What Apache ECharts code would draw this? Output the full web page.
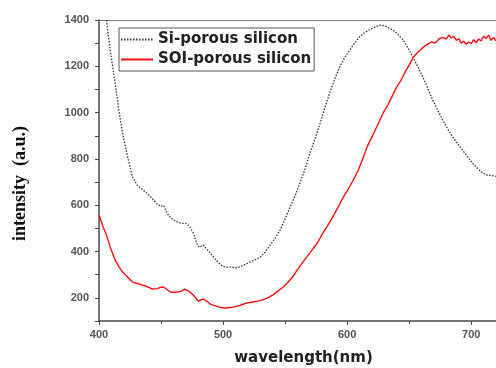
<!DOCTYPE html>
<html>
<head>
<meta charset="utf-8">
<script src="https://cdn.jsdelivr.net/npm/echarts@6/dist/echarts.min.js"></script>
<style>
  html, body { margin: 0; padding: 0; background: #fff; }
  #chart { width: 496px; height: 368px; }
</style>
</head>
<body>
<div id="chart"></div>
<script>
// Si-porous silicon (black dotted)
const siWl = [406, 409, 413, 416, 419, 423, 427, 431, 435, 439, 443, 447, 450, 452, 455, 458, 462, 466, 470, 473,
  476, 479, 481, 484, 487, 490, 494, 498, 502, 506, 510, 514, 518, 522, 526, 530, 534, 538, 542, 546,
  550, 554, 558, 562, 566, 570, 574, 578, 582, 586, 590, 594, 598, 602, 606, 610, 614, 618, 622, 626,
  630, 634, 637, 641, 645, 649, 653, 657, 661, 665, 669, 673, 677, 681, 685, 689, 693, 697, 701, 705,
  709, 713, 717, 720];
const siVal = [1400, 1270, 1128, 1010, 912, 810, 722, 685, 668, 650, 628, 605, 595, 600, 565, 545, 530, 522, 522, 508,
  480, 432, 418, 428, 410, 392, 365, 342, 332, 333, 330, 334, 345, 355, 365, 376, 398, 428, 458, 493,
  540, 592, 640, 696, 755, 825, 885, 950, 1020, 1085, 1145, 1197, 1238, 1270, 1300, 1327, 1345, 1358, 1368, 1378,
  1375, 1365, 1357, 1338, 1314, 1280, 1240, 1198, 1154, 1105, 1054, 1010, 968, 930, 895, 866, 838, 810, 782, 760,
  740, 730, 728, 725];

// SOI-porous silicon (red)
const soiWl = [400, 403, 406, 409, 413, 416, 419, 423, 427, 431, 435, 439, 443, 447, 450, 452, 455, 458, 462, 466,
  469, 472, 476, 480, 484, 487, 490, 494, 498, 502, 506, 510, 514, 519, 524, 528, 532, 536, 540, 544,
  548, 552, 556, 560, 564, 568, 572, 576, 580, 584, 588, 592, 597, 601, 605, 609, 612, 616, 620, 624,
  629, 633, 636, 640, 644, 647, 650, 653, 656, 659, 662, 665, 668, 671, 674, 677, 680, 682, 684, 686,
  688, 690, 692, 694, 696, 698, 700, 702, 704, 706, 708, 710, 712, 714, 716, 718, 720];
const soiVal = [558, 510, 471, 420, 363, 335, 312, 290, 268, 262, 255, 248, 238, 240, 246, 247, 235, 224, 224, 228,
  238, 230, 212, 186, 195, 185, 172, 165, 158, 156, 158, 162, 168, 178, 182, 186, 191, 200, 212, 228,
  245, 265, 290, 322, 352, 380, 408, 437, 475, 510, 545, 585, 636, 670, 709, 752, 792, 851, 895, 940,
  998, 1035, 1068, 1111, 1145, 1178, 1205, 1236, 1255, 1270, 1285, 1296, 1305, 1300, 1318, 1325, 1318, 1335, 1322, 1330,
  1312, 1320, 1300, 1308, 1295, 1305, 1298, 1315, 1302, 1318, 1310, 1330, 1320, 1335, 1312, 1325, 1310];

const xTicks = [400, 500, 600, 700];
const yTicks = [200, 400, 600, 800, 1000, 1200, 1400];

const zip = (a, b) => a.map((x, i) => [x, b[i]]);

const chart = echarts.init(document.getElementById("chart"));
const axisColor = "#4a4a4a";
const labelStyle = { color: "#555", fontSize: 11, fontWeight: "bold", fontFamily: "Liberation Sans, Arial, sans-serif" };

chart.setOption({
  animation: false,
  backgroundColor: "#fff",
  grid: { left: 99, right: 0, top: 20, bottom: 47, outerBoundsMode: "none", containLabel: false },
  legend: {
    orient: "vertical",
    left: 119, top: 28,
    padding: [4, 3, 4, 1],
    itemGap: 5,
    itemWidth: 32, itemHeight: 14,
    borderColor: "#555", borderWidth: 1,
    itemStyle: { opacity: 0 },
    textStyle: { color: "#222", fontSize: 15, fontWeight: "bold", fontFamily: "DejaVu Sans, sans-serif" },
    data: ["Si-porous silicon", "SOI-porous silicon"],
  },
  xAxis: [
    {
      type: "value", min: 400, max: 720, interval: 100,
      name: "wavelength(nm)", nameLocation: "middle", nameGap: 30,
      nameTextStyle: { color: "#222", fontSize: 15, fontWeight: "bold", fontFamily: "DejaVu Sans, sans-serif", padding: [0, 0, 0, 12] },
      axisLine: { show: true, lineStyle: { color: axisColor, width: 1.5 } },
      axisTick: { show: true, length: 4, lineStyle: { color: axisColor } },
      minorTick: { show: true, splitNumber: 2, length: 3, lineStyle: { color: axisColor } },
      axisLabel: { ...labelStyle, margin: 8, formatter: v => xTicks.includes(v) ? String(v) : "" },
      splitLine: { show: false },
    },
    {
      type: "value", position: "top", min: 400, max: 720,
      axisLine: { show: true, lineStyle: { color: "#777", width: 1 } },
      axisTick: { show: false }, axisLabel: { show: false }, splitLine: { show: false },
    },
  ],
  yAxis: {
    type: "value", min: 100, max: 1400, interval: 100,
    name: "intensity  (a.u.)", nameLocation: "middle", nameGap: 70,
    nameTextStyle: { color: "#111", fontSize: 18, fontWeight: "bold", fontFamily: "Liberation Serif, Times New Roman, serif", padding: [0, 26, 0, 0] },
    axisLine: { show: true, lineStyle: { color: axisColor, width: 1.5 } },
    axisTick: { show: true, length: 4, lineStyle: { color: axisColor } },
    axisLabel: { ...labelStyle, margin: 10, formatter: v => yTicks.includes(v) ? String(v) : "" },
    splitLine: { show: false },
  },
  series: [
    {
      name: "Si-porous silicon", type: "line", showSymbol: false, symbol: "none",
      data: zip(siWl, siVal),
      lineStyle: { color: "#333", width: 1.3, type: [1.5, 1.5] },
      itemStyle: { color: "#333" },
    },
    {
      name: "SOI-porous silicon", type: "line", showSymbol: false, symbol: "none",
      data: zip(soiWl, soiVal),
      lineStyle: { color: "#ff1010", width: 1.4 },
      itemStyle: { color: "#ff1010" },
    },
  ],
});
</script>
</body>
</html>
